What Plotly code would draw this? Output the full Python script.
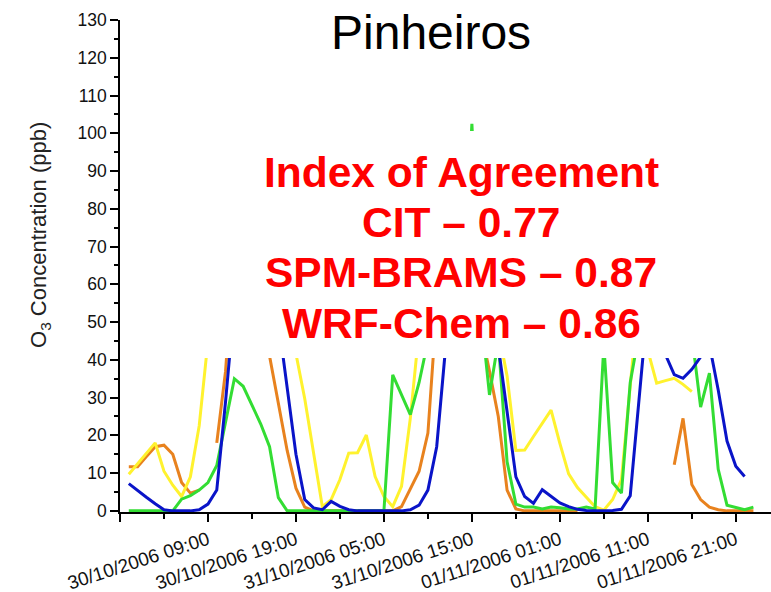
import pandas as pd
import plotly.graph_objects as go

# Hourly O3 at Pinheiros, 30/10/2006 00:00 .. 01/11/2006 23:00
times = pd.date_range("2006-10-30 00:00", periods=72, freq="h")

observed = [11.7, 11.7, 14.4, 17.0, 17.4, 15.0, 7.5, 4.7, 5.5, None,
            18.0, 37.0, 70, 84, 80, 62, 41, 28, 16, 6,
            1, 0, 0, 0, 0, 0, 0, 0, 0, 0,
            0, 1.1, 5.9, 10.5, 20.6, 54, 70, 82, 86, 74,
            48, 37, 25, 5.5, 0.5, 0, 0, 0, 0, 0,
            0, 0, None, None, None, None, None, None, None, None,
            None, None, 12.2, 24.5, 7, 3, 1, 0.3, 0, 0,
            0, 0]

cit = [9.7, 12.5, 15.3, 18.0, 10.5, 6.8, 3.8, 9.0, 22.5, 45,
       62, 75, 85, 90, 88, 80, 70, 60, 52, 41.6,
       29.7, 15, 1.1, 3, 8.3, 15.3, 15.4, 20.1, 9.1, 3.8,
       1.1, 6.5, 24.5, 48, 60, 72, 80, 85, 88, 82,
       72, 60, 48, 35.7, 16, 16.1, 19.7, 23.2, 26.7, 17.9,
       9.8, 6.2, 3.5, 1.1, 0.2, 3, 8.3, 33, 58, 42.5,
       33.8, 34.5, 35.1, 33.5, 31.6, None, None, None, None, None,
       None, None]

spm_brams = [0, 0, 0, 0, 0, 0, 3.1, 4, 5.5, 7.5,
             12, 24, 35, 33, 28, 23, 17, 3.5, 0, 0,
             0, 0, 0, 0, 0, 0, 0, 0, 0, 0,
             36, 30.5, 25.5, 34, 45, 60, 68, 64, 58, 102.5,
             53, 30.7, 45, 13, 1.8, 1, 1, 0.5, 1, 0.8,
             0.5, 0.5, 1, 0.5, 44, 7.5, 4.7, 34, 47, 60,
             68, 70, 65, 55, 46.6, 27.5, 36.5, 11, 1.5, 1,
             0.3, 1]

wrf_chem = [7.2, 5.3, 3.6, 1.9, 0.3, 0, 0, 0, 0.3, 1.8,
            5.5, 29, 55, 72, 80, 78, 68, 50, 32, 15,
            3, 0.8, 0.3, 2.5, 1.2, 0.3, 0, 0, 0, 0,
            0, 0, 0.3, 1.5, 5.5, 17, 43, 62, 76, 84,
            80, 65, 43.6, 26.4, 9, 3.8, 2, 5.6, 3.9, 2.1,
            1.1, 0.4, 0.1, 0, 0, 0.1, 0.4, 4, 29, 55,
            52, 41.4, 36.1, 35.1, 37.5, 40.7, 44, 32, 18.5, 11.8,
            9.1, None]

series = [
    ("Observed", observed, "#E8821E"),
    ("CIT", cit, "#FFF22E"),
    ("SPM-BRAMS", spm_brams, "#33DD33"),
    ("WRF-Chem", wrf_chem, "#0A14C8"),
]

agreement_lines = ["Index of Agreement", "CIT \u2013 0.77",
                   "SPM-BRAMS \u2013 0.87", "WRF-Chem \u2013 0.86"]

major_ticks = pd.date_range("2006-10-29 23:00", periods=8, freq="10h")
major_labels = [""] + [t.strftime("%d/%m/%Y %H:%M") for t in major_ticks[1:]]
minor_ticks = pd.date_range("2006-10-30 04:00", periods=7, freq="10h")

fig = go.Figure()
for name, vals, color in series:
    fig.add_trace(go.Scatter(x=times, y=vals, mode="lines", name=name,
                             line=dict(color=color, width=3),
                             connectgaps=False, hoverinfo="skip"))

font_family = "Liberation Sans, Arial, sans-serif"

fig.update_layout(
    width=771, height=592,
    margin=dict(l=120, r=0, t=20, b=80),
    paper_bgcolor="white", plot_bgcolor="white",
    showlegend=False,
    font=dict(family=font_family, color="black"),
)

fig.update_xaxes(
    range=["2006-10-29 23:00", "2006-11-02 01:00"],
    tickmode="array", tickvals=list(major_ticks), ticktext=major_labels,
    tickangle=-18, tickfont=dict(size=19, color="#111"),
    ticks="outside", ticklen=8, tickwidth=1.5, tickcolor="black",
    minor=dict(tickmode="array", tickvals=list(minor_ticks), ticks="outside",
               ticklen=5, tickwidth=1.5, tickcolor="black", showgrid=False),
    showline=True, linecolor="black", linewidth=1.5,
    showgrid=False, zeroline=False, layer="below traces",
    automargin=False,
)

fig.update_yaxes(
    range=[-0.3, 130],
    tickmode="array", tickvals=list(range(0, 131, 10)),
    tickfont=dict(size=17.5, color="#111"),
    ticks="outside", ticklen=8, tickwidth=1.5, tickcolor="black",
    minor=dict(tickmode="array", tickvals=list(range(5, 130, 10)), ticks="outside",
               ticklen=4, tickwidth=1.5, tickcolor="black", showgrid=False),
    showline=True, linecolor="black", linewidth=1.5,
    showgrid=False, zeroline=False, layer="below traces",
    automargin=False,
)

# y-axis title, placed as rotated text left of the tick labels
fig.add_annotation(text="O<sub>3</sub> Concentration (ppb)", xref="paper", yref="paper",
                   x=-0.1229, y=0.563, textangle=-90, showarrow=False,
                   xanchor="center", yanchor="middle",
                   font=dict(size=22, color="#222", family=font_family))

# white panel behind the agreement statistics
fig.add_shape(type="rect", xref="paper", yref="y", x0=0.03, x1=1.0,
              y0=40.5, y1=100.6, fillcolor="white", line=dict(width=0),
              layer="above")

fig.add_annotation(text="Pinheiros", xref="paper", yref="paper",
                   x=0.478, y=0.9736, showarrow=False,
                   xanchor="center", yanchor="middle",
                   font=dict(size=48, color="black", family=font_family))

for text, ypos in zip(agreement_lines, [0.691, 0.5894, 0.4878, 0.3841]):
    fig.add_annotation(text=text, xref="paper", yref="paper",
                       x=0.524, y=ypos, showarrow=False,
                       xanchor="center", yanchor="middle",
                       font=dict(size=42.5, color="#FF0000", family=font_family,
                                 weight="bold"))

fig.write_html("out.html")
